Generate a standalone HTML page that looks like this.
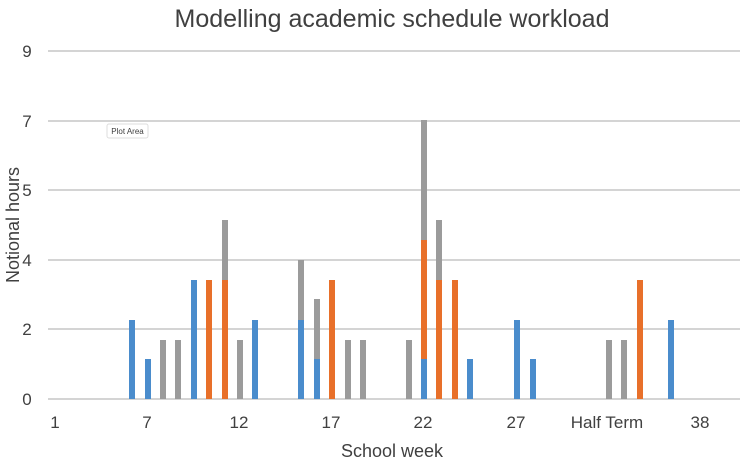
<!DOCTYPE html>
<html><head><style>body{margin:0;background:#fff}svg{display:block}text{font-family:"Liberation Sans",sans-serif;fill:#404040}</style></head>
<body>
<svg width="755" height="462" xmlns="http://www.w3.org/2000/svg">
<text x="392" y="27" font-size="25" text-anchor="middle" fill="#505050">Modelling academic schedule workload</text>
<g stroke="#d4d4d4" stroke-width="2">
<line x1="48" x2="740" y1="51" y2="51"/><line x1="48" x2="740" y1="121" y2="121"/>
<line x1="48" x2="740" y1="190" y2="190"/><line x1="48" x2="740" y1="260" y2="260"/>
<line x1="48" x2="740" y1="329" y2="329"/><line x1="48" x2="740" y1="399" y2="399"/>
</g>
<g font-size="17" text-anchor="middle">
<text x="27" y="57">9</text><text x="27" y="127">7</text><text x="27" y="196">5</text>
<text x="27" y="266">4</text><text x="27" y="335">2</text><text x="27" y="405">0</text>
<text x="55" y="428">1</text><text x="147" y="428">7</text><text x="239" y="428">12</text>
<text x="331" y="428">17</text><text x="423" y="428">22</text><text x="516" y="428">27</text>
<text x="607" y="428">Half Term</text><text x="700" y="428">38</text>
</g>
<text x="392" y="457" font-size="18" text-anchor="middle">School week</text>
<text transform="translate(19,225) rotate(-90)" font-size="18" text-anchor="middle">Notional hours</text>
<g>
<rect x="129" y="320" width="6" height="79" fill="#4a8ccc"/>
<rect x="145" y="359" width="6" height="40" fill="#4a8ccc"/>
<rect x="160" y="340" width="6" height="59" fill="#9b9b9b"/>
<rect x="175" y="340" width="6" height="59" fill="#9b9b9b"/>
<rect x="191" y="280" width="6" height="119" fill="#4a8ccc"/>
<rect x="206" y="280" width="6" height="119" fill="#e8702a"/>
<rect x="222" y="280" width="6" height="119" fill="#e8702a"/>
<rect x="222" y="220" width="6" height="60" fill="#9b9b9b"/>
<rect x="237" y="340" width="6" height="59" fill="#9b9b9b"/>
<rect x="252" y="320" width="6" height="79" fill="#4a8ccc"/>
<rect x="298" y="320" width="6" height="79" fill="#4a8ccc"/>
<rect x="298" y="260" width="6" height="60" fill="#9b9b9b"/>
<rect x="314" y="359" width="6" height="40" fill="#4a8ccc"/>
<rect x="314" y="299" width="6" height="60" fill="#9b9b9b"/>
<rect x="329" y="280" width="6" height="119" fill="#e8702a"/>
<rect x="345" y="340" width="6" height="59" fill="#9b9b9b"/>
<rect x="360" y="340" width="6" height="59" fill="#9b9b9b"/>
<rect x="406" y="340" width="6" height="59" fill="#9b9b9b"/>
<rect x="421" y="359" width="6" height="40" fill="#4a8ccc"/>
<rect x="421" y="240" width="6" height="119" fill="#e8702a"/>
<rect x="421" y="120" width="6" height="120" fill="#9b9b9b"/>
<rect x="436" y="280" width="6" height="119" fill="#e8702a"/>
<rect x="436" y="220" width="6" height="60" fill="#9b9b9b"/>
<rect x="452" y="280" width="6" height="119" fill="#e8702a"/>
<rect x="467" y="359" width="6" height="40" fill="#4a8ccc"/>
<rect x="514" y="320" width="6" height="79" fill="#4a8ccc"/>
<rect x="530" y="359" width="6" height="40" fill="#4a8ccc"/>
<rect x="606" y="340" width="6" height="59" fill="#9b9b9b"/>
<rect x="621" y="340" width="6" height="59" fill="#9b9b9b"/>
<rect x="637" y="280" width="6" height="119" fill="#e8702a"/>
<rect x="668" y="320" width="6" height="79" fill="#4a8ccc"/>
</g>
<rect x="107" y="124" width="41" height="14" rx="2" fill="#fff" stroke="#ddd"/>
<text x="127.5" y="134" font-size="8" text-anchor="middle" fill="#222">Plot Area</text>
</svg>
</body></html>
